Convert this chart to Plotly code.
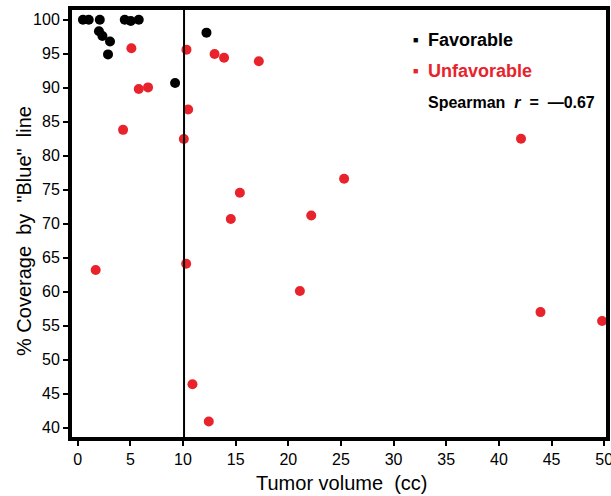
import plotly.graph_objects as go

fav_x = [0.5, 1.05, 2.1, 4.47, 5.04, 5.8, 2.02, 2.35, 3.07, 2.88, 9.25, 12.23]
fav_y = [100, 100, 100, 100, 99.8, 100, 98.3, 97.6, 96.8, 94.9, 90.7, 98.1]

unf_x = [5.1, 10.33, 13.0, 13.9, 17.2, 5.8, 6.68, 10.49, 4.31, 10.08, 15.4, 14.54,
         25.3, 22.18, 1.71, 10.3, 21.1, 10.9, 12.45, 43.95, 49.8, 42.1]
unf_y = [95.8, 95.6, 94.95, 94.4, 93.9, 89.8, 90.05, 86.8, 83.8, 82.45, 74.56, 70.7,
         76.6, 71.2, 63.2, 64.1, 60.1, 46.4, 40.9, 57.0, 55.7, 82.5]

cutoff = 10.1
x_ticks = [0, 5, 10, 15, 20, 25, 30, 35, 40, 45, 50]
y_ticks = [40, 45, 50, 55, 60, 65, 70, 75, 80, 85, 90, 95, 100]

RED = "#e8232b"
FONT = "Liberation Sans"
NB = "\u00a0"

L, R, T, B = 72, 606, 10, 437  # plot area in pixels
W = R - L
H = B - T


def px(xp):
    return (xp - L) / W


def py(yp):
    return (B - yp) / H


fig = go.Figure()
fig.add_trace(go.Scatter(x=fav_x, y=fav_y, mode="markers", name="Favorable",
                         marker=dict(color="black", size=10), cliponaxis=False))
fig.add_trace(go.Scatter(x=unf_x, y=unf_y, mode="markers", name="Unfavorable",
                         marker=dict(color=RED, size=10), cliponaxis=False))

fig.add_shape(type="line", x0=cutoff, x1=cutoff, y0=0, y1=1, xref="x", yref="paper",
              line=dict(color="black", width=2))

# legend-like annotations
fig.add_annotation(x=px(411), y=py(40), xref="paper", yref="paper", text="■", showarrow=False,
                   font=dict(family=FONT, size=9, color="black"), xanchor="left", yanchor="middle")
fig.add_annotation(x=px(426), y=py(40), xref="paper", yref="paper", text="<b>Favorable</b>", showarrow=False,
                   font=dict(family=FONT, size=18, color="black"), xanchor="left", yanchor="middle")
fig.add_annotation(x=px(411), y=py(71), xref="paper", yref="paper", text="■", showarrow=False,
                   font=dict(family=FONT, size=9, color=RED), xanchor="left", yanchor="middle")
fig.add_annotation(x=px(426), y=py(71), xref="paper", yref="paper", text="<b>Unfavorable</b>", showarrow=False,
                   font=dict(family=FONT, size=18, color=RED), xanchor="left", yanchor="middle")
fig.add_annotation(x=px(426), y=py(102), xref="paper", yref="paper",
                   text=f"<b>Spearman{NB}{NB}<i>r</i>{NB}{NB}={NB}{NB}—0.67</b>", showarrow=False,
                   font=dict(family=FONT, size=16, color="black"), xanchor="left", yanchor="middle")

# axis titles
fig.add_annotation(x=px(342), y=py(483), xref="paper", yref="paper",
                   text=f"Tumor{NB}volume{NB}{NB}(cc)", showarrow=False,
                   font=dict(family=FONT, size=20, color="black"), xanchor="center", yanchor="middle")
fig.add_annotation(x=px(24), y=py(231), xref="paper", yref="paper",
                   text=f'%{NB}Coverage{NB}{NB}by{NB}{NB}"Blue"{NB}{NB}line', showarrow=False, textangle=-90,
                   font=dict(family=FONT, size=20, color="black"), xanchor="center", yanchor="middle")

fig.update_layout(
    width=611, height=496,
    margin=dict(l=L, r=611 - R, t=T, b=496 - B, autoexpand=False),
    paper_bgcolor="white", plot_bgcolor="white",
    showlegend=False,
    font=dict(family=FONT, color="black"),
)
fig.update_xaxes(range=[-0.54, 50.17], tickvals=x_ticks, ticks="outside", ticklen=5, tickwidth=2,
                 tickcolor="black", showline=True, linewidth=4, linecolor="black", mirror=True,
                 showgrid=False, zeroline=False, automargin=False, ticklabeloverflow="allow",
                 tickfont=dict(family=FONT, size=16, color="black"))
fig.update_yaxes(range=[38.63, 101.43], tickvals=y_ticks, ticks="outside", ticklen=5, tickwidth=2,
                 tickcolor="black", showline=True, linewidth=4, linecolor="black", mirror=True,
                 showgrid=False, zeroline=False, automargin=False, ticklabeloverflow="allow",
                 tickfont=dict(family=FONT, size=16, color="black"))

fig.write_html("out.html", config={"displayModeBar": False},
               post_script="document.body.style.margin='0';")
